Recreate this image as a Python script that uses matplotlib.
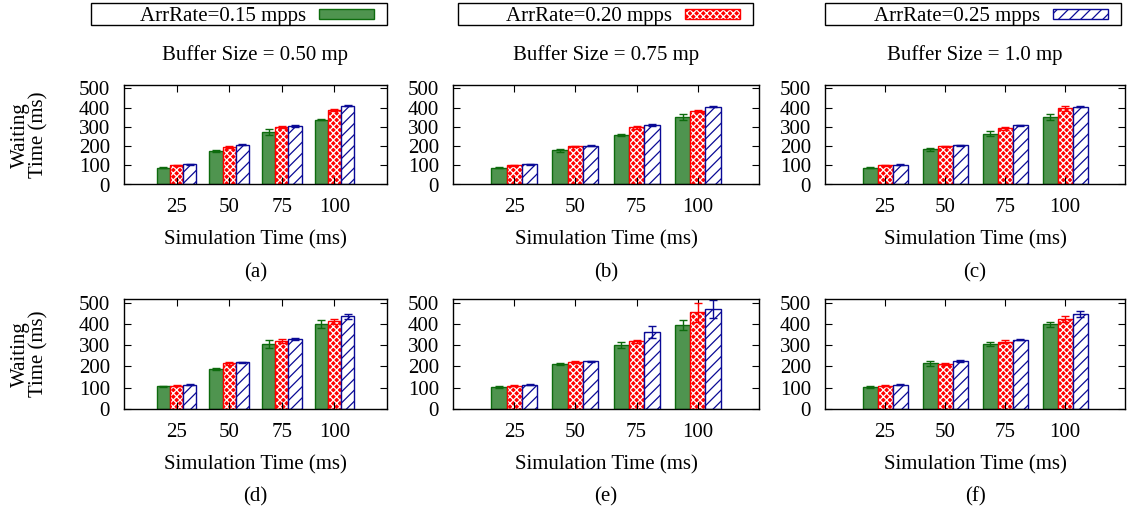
import matplotlib.pyplot as plt
from matplotlib.patches import Rectangle

# datos
tiempos_sim = [25, 50, 75, 100]
tasas = ["ArrRate=0.15 mpps", "ArrRate=0.20 mpps", "ArrRate=0.25 mpps"]
titulos_buffer = ["Buffer Size = 0.50 mp", "Buffer Size = 0.75 mp", "Buffer Size = 1.0 mp"]
letras = ["(a)", "(b)", "(c)", "(d)", "(e)", "(f)"]

# cada panel: [tasa 0.15, tasa 0.20, tasa 0.25]
espera_a = [[88, 174, 272, 336], [100, 195, 297, 388], [105, 207, 305, 409]]
error_a = [[4, 5, 15, 3], [3, 5, 6, 6], [2, 3, 4, 3]]
espera_b = [[88, 178, 257, 352], [100, 198, 297, 384], [105, 202, 309, 405]]
error_b = [[4, 9, 6, 15], [3, 4, 7, 5], [2, 2, 4, 2]]
espera_c = [[88, 183, 264, 350], [100, 198, 293, 395], [103, 203, 307, 405]]
error_c = [[4, 9, 12, 15], [3, 4, 8, 12], [2, 2, 4, 2]]
espera_d = [[106, 189, 304, 399], [110, 215, 319, 413], [114, 219, 330, 435]]
error_d = [[4, 6, 18, 18], [3, 6, 9, 12], [3, 4, 6, 13]]
espera_e = [[104, 210, 301, 394], [110, 221, 319, 454], [114, 224, 360, 472]]
error_e = [[4, 5, 16, 22], [3, 6, 7, 43], [2, 3, 28, 42]]
espera_f = [[104, 215, 304, 399], [109, 213, 317, 424], [114, 224, 325, 445]]
error_f = [[3, 12, 9, 12], [3, 5, 7, 15], [2, 4, 3, 14]]

paneles = [(espera_a, error_a), (espera_b, error_b), (espera_c, error_c),
           (espera_d, error_d), (espera_e, error_e), (espera_f, error_f)]

VERDE = "#4f944f"
VERDE_OSC = "#0d6b0d"
ROJO = "#ff0000"
AZUL = "#0a0a96"

plt.rcParams["font.family"] = ["Liberation Serif", "DejaVu Serif"]
plt.rcParams["font.size"] = 15
plt.rcParams["hatch.linewidth"] = 0.9

W, H = 1129, 511
fig = plt.figure(figsize=(W / 100, H / 100), dpi=100)

columnas = [(124, 387), (453, 759), (825, 1125)]
filas = [(85, 184.5), (299, 409)]
ancho = 0.25


def barras(ax, x, vals, errs, serie):
    if serie == 0:
        ax.bar(x, vals, ancho, color=VERDE, edgecolor=VERDE_OSC, lw=1)
        ec = VERDE_OSC
    elif serie == 1:
        ax.bar(x, vals, ancho, color=ROJO, edgecolor="white", hatch="xxxxx", lw=0)
        ax.bar(x, vals, ancho, fill=False, edgecolor=ROJO, lw=1)
        ec = ROJO
    else:
        ax.bar(x, vals, ancho, color="white", edgecolor=AZUL, hatch="///", lw=1)
        ec = AZUL
    ax.errorbar(x, vals, yerr=errs, fmt="none", ecolor=ec, elinewidth=1,
                capsize=3, capthick=1, clip_on=False)


for k, (esperas, errores) in enumerate(paneles):
    fila, col = divmod(k, 3)
    l, r = columnas[col]
    t, b = filas[fila]
    ax = fig.add_axes([l / W, 1 - b / H, (r - l) / W, (b - t) / H])
    for s in range(3):
        xs = [i + 1 + (s - 1) * ancho for i in range(len(tiempos_sim))]
        barras(ax, xs, esperas[s], errores[s], s)
    ax.set_xlim(0, 5)
    ax.set_ylim(0, 517)
    ax.set_xticks(range(1, 5))
    ax.set_xticklabels([str(v) for v in tiempos_sim])
    ax.set_yticks(range(0, 501, 100))
    ax.tick_params(direction="in", length=5, width=0.8, top=True, right=True, pad=10)
    for sp in ax.spines.values():
        sp.set_linewidth(1)
    ax.annotate("Simulation Time (ms)", xy=(0.5, 0), xycoords="axes fraction",
                xytext=(0, -60), textcoords="offset pixels", ha="center", va="baseline")
    ax.annotate(letras[k], xy=(0.5, 0), xycoords="axes fraction",
                xytext=(0, -88), textcoords="offset pixels", ha="center", va="center")
    if fila == 0:
        ax.annotate(titulos_buffer[col], xy=(0.5, 1), xycoords="axes fraction",
                    xytext=(0, 25), textcoords="offset pixels", ha="center", va="baseline")
    if col == 0:
        fig.text(30 / W, 1 - (t + b) / 2 / H, "Waiting\nTime (ms)", rotation=90,
                 ha="center", va="center", linespacing=0.95)

# leyendas arriba de cada columna
cajas = [(91, 387), (458, 753), (825, 1121)]
for s, (l, r) in enumerate(cajas):
    fig.add_artist(Rectangle((l / W, 1 - 25 / H), (r - l) / W, 22 / H, fill=False,
                             edgecolor="black", lw=1, transform=fig.transFigure))
    sx0 = r - 13 - 55
    sy0 = 9.5
    caja = (sx0 / W, 1 - (sy0 + 10) / H)
    dims = (55 / W, 10 / H)
    if s == 0:
        fig.add_artist(Rectangle(caja, *dims, facecolor=VERDE, edgecolor=VERDE_OSC,
                                 lw=1, transform=fig.transFigure))
    elif s == 1:
        fig.add_artist(Rectangle(caja, *dims, facecolor=ROJO, edgecolor="white",
                                 hatch="xxxxx", lw=0, transform=fig.transFigure))
        fig.add_artist(Rectangle(caja, *dims, fill=False, edgecolor=ROJO,
                                 lw=1, transform=fig.transFigure))
    else:
        fig.add_artist(Rectangle(caja, *dims, facecolor="white", edgecolor=AZUL,
                                 hatch="///", lw=1, transform=fig.transFigure))
    fig.text((sx0 - 13) / W, 1 - 21 / H, tasas[s], ha="right", va="baseline")

fig.savefig("out.png", dpi=100)
